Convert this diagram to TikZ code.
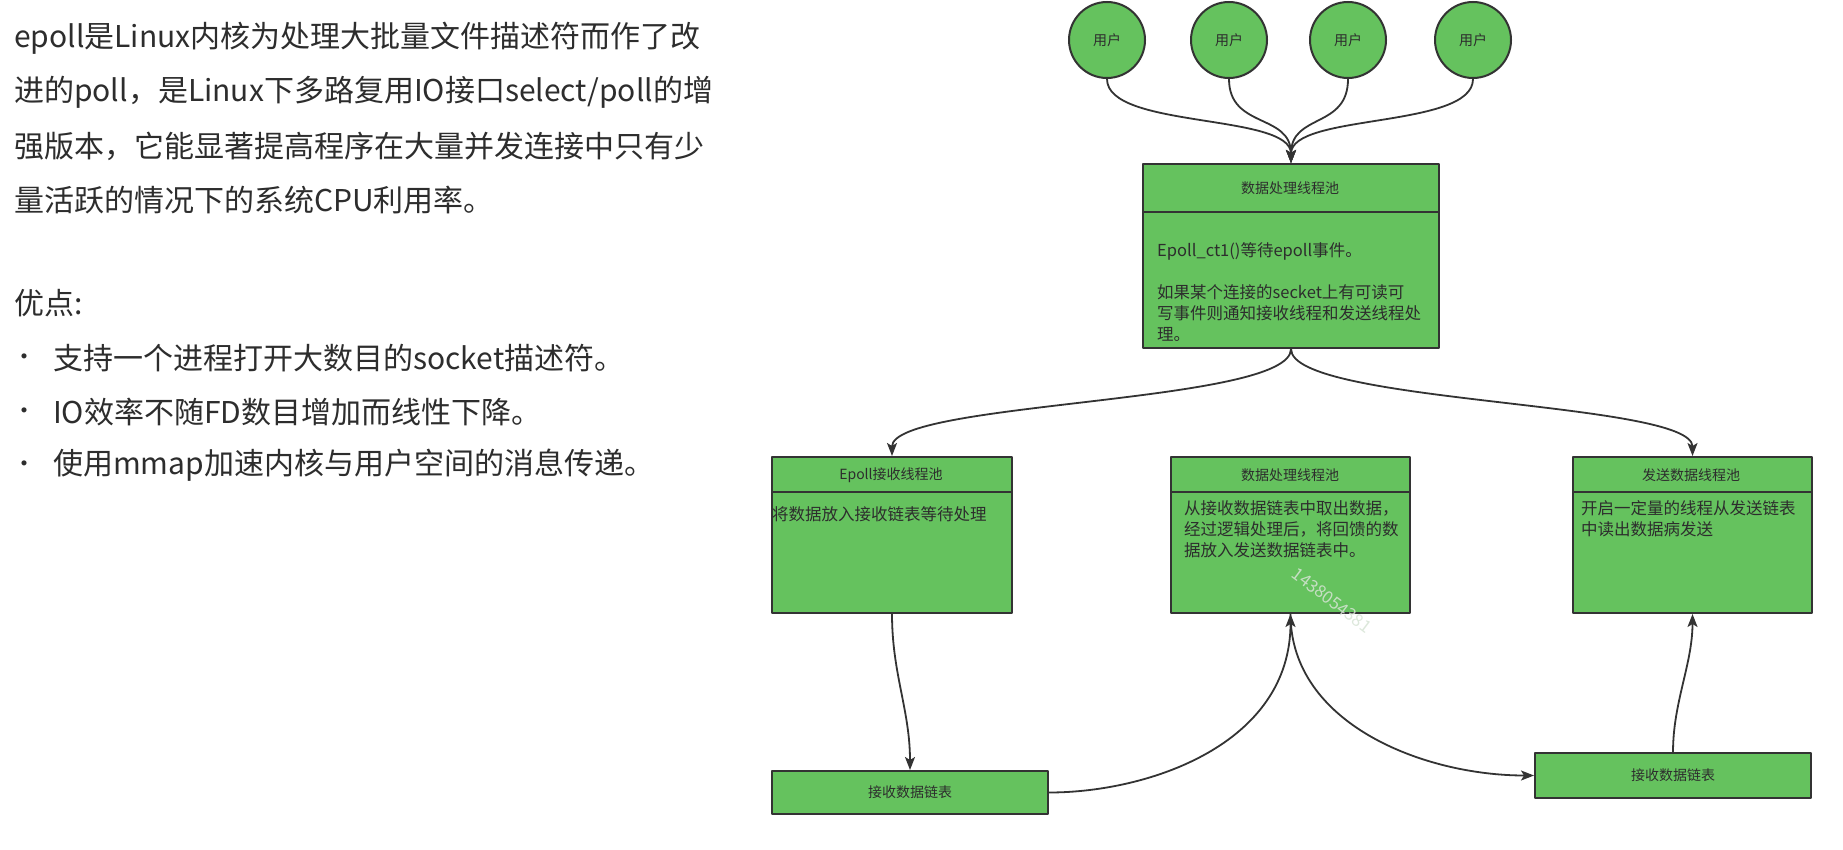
\documentclass[tikz,border=0pt]{standalone}
\usepackage{fontspec}
\setmainfont{Noto Sans CJK SC}
\usetikzlibrary{arrows.meta}
\definecolor{boxgreen}{RGB}{101,194,94}
\definecolor{edgegray}{RGB}{51,51,51}
\definecolor{txtgray}{RGB}{45,45,45}
\definecolor{wmgray}{RGB}{215,228,213}
\newcommand\myfs[2]{\fontsize{#1}{#2}\selectfont}
\begin{document}
\begin{tikzpicture}[x=1pt,y=-1pt,line join=round,
  lefttxt/.style={font=\myfs{30}{54}, text=txtgray, anchor=west, inner sep=0pt},
  user/.style={circle, draw=edgegray, line width=2pt, fill=boxgreen, minimum size=76pt, inner sep=0pt, font=\myfs{14}{16}, text=txtgray},
  pool/.style={rectangle, draw=edgegray, line width=2pt, fill=boxgreen, anchor=north west, inner sep=0pt},
  divider/.style={draw=edgegray, line width=2.4pt},
  hdr/.style={font=\myfs{14}{16}, text=txtgray, inner sep=0pt},
  body/.style={font=\myfs{16.5}{21}, text=txtgray, anchor=north west, inner sep=0pt, align=left},
  arr/.style={draw=edgegray, line width=1.8pt, -{Stealth[length=13pt,width=10pt,inset=3pt]}},
  wm/.style={font=\myfs{17}{20}, text=wmgray, opacity=0.85, inner sep=0pt}]
\fill[white] (0,0) rectangle (1843,850);
\useasboundingbox (0,0) rectangle (1843,850);

% left text
\node[lefttxt] (l1) at (14,38) {epoll是Linux内核为处理大批量文件描述符而作了改};
\node[lefttxt] (l2) at (14,92) {进的poll，是Linux下多路复用IO接口select/poll的增};
\node[lefttxt] (l3) at (14,146) {强版本，它能显著提高程序在大量并发连接中只有少};
\node[lefttxt] (l4) at (14,200) {量活跃的情况下的系统CPU利用率。};
\node[lefttxt] (adv) at (14,303) {优点:};
\node[lefttxt, font=\myfs{24}{30}] (b1) at (12,360) {•};
\node[lefttxt] (t1) at (53,358) {支持一个进程打开大数目的socket描述符。};
\node[lefttxt, font=\myfs{24}{30}] (b2) at (12,414) {•};
\node[lefttxt] (t2) at (53,412) {IO效率不随FD数目增加而线性下降。};
\node[lefttxt, font=\myfs{24}{30}] (b3) at (12,467) {•};
\node[lefttxt] (t3) at (53,465) {使用mmap加速内核与用户空间的消息传递。};

% users
\node[user] (u1) at (1107,40) {用户};
\node[user] (u2) at (1229,40) {用户};
\node[user] (u3) at (1348,40) {用户};
\node[user] (u4) at (1473,40) {用户};

% top pool
\node[pool, minimum width=296pt, minimum height=184pt] (top) at (1142,163) {};
\draw[divider] (top.north west) ++(0,49) -- ++(296,0);
\node[hdr] (toph) at (1290,188) {数据处理线程池};
\node[body] (topb) at (1157,242) {Epoll\_ct1()等待epoll事件。\\[21pt]如果某个连接的secket上有可读可\\写事件则通知接收线程和发送线程处\\理。};

% three pools
\node[pool, minimum width=240pt, minimum height=156pt] (lp) at (771,456) {};
\draw[divider] (lp.north west) ++(0,36) -- ++(240,0);
\node[hdr] (lph) at (891,475) {Epoll接收线程池};
\node[body] (lpb) at (772,506) {将数据放入接收链表等待处理};

\node[pool, minimum width=239pt, minimum height=156pt] (mp) at (1170,456) {};
\draw[divider] (mp.north west) ++(0,36) -- ++(239,0);
\node[hdr] (mph) at (1290,475) {数据处理线程池};
\node[body] (mpb) at (1184,500) {从接收数据链表中取出数据，\\经过逻辑处理后，将回馈的数\\据放入发送数据链表中。};

\node[pool, minimum width=239pt, minimum height=156pt] (rp) at (1572,456) {};
\draw[divider] (rp.north west) ++(0,36) -- ++(239,0);
\node[hdr] (rph) at (1691,475) {发送数据线程池};
\node[body] (rpb) at (1581,500) {开启一定量的线程从发送链表\\中读出数据病发送};

% lists
\node[pool, minimum width=276pt, minimum height=43pt] (bl) at (771,770) {};
\node[hdr] (blt) at (bl.center) {接收数据链表};
\node[pool, minimum width=276pt, minimum height=45pt] (br) at (1534,752) {};
\node[hdr] (brt) at (br.center) {接收数据链表};

% watermark
\node[wm, rotate=-37, anchor=west] (wmk) at (1294,572) {1438054381};

% connectors
\draw[arr] (u1.south) .. controls +(0,50) and +(0,-50) .. (top.north);
\draw[arr] (u2.south) .. controls +(0,50) and +(0,-50) .. (top.north);
\draw[arr] (u3.south) .. controls +(0,50) and +(0,-50) .. (top.north);
\draw[arr] (u4.south) .. controls +(0,50) and +(0,-50) .. (top.north);
\draw[arr] (top.south) .. controls +(0,55) and +(0,-55) .. (lp.north);
\draw[arr] (top.south) .. controls +(0,55) and +(0,-55) .. (rp.north);
\draw[arr] (lp.south) .. controls +(0,60) and +(0,-60) .. (bl.north);
\draw[arr] (bl.east) .. controls +(100,0) and +(0,130) .. (mp.south);
\draw[arr] (mp.south) .. controls +(0,110) and +(-110,0) .. (br.west);
\draw[arr] (br.north) .. controls +(0,-50) and +(0,50) .. (rp.south);
\end{tikzpicture}
\end{document}
